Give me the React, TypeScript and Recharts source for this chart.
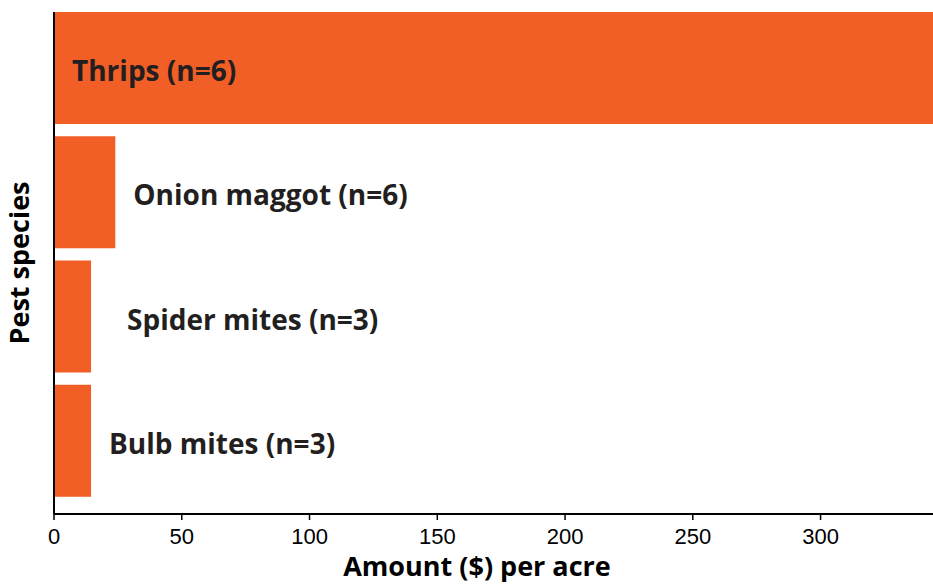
import { Bar, BarChart, LabelList, XAxis, YAxis } from "recharts";

const species = ["Thrips (n=6)", "Onion maggot (n=6)", "Spider mites (n=3)", "Bulb mites (n=3)"];
const amounts = [344, 24, 14.5, 14.5];
const xTicks = [0, 50, 100, 150, 200, 250, 300];

// label placement: Thrips sits inside its bar, the rest to the right
const labelInside = [true, false, false, false];
const labelGap = [18, 18, 36, 18];

const data = species.map((name, i) => ({ name, amount: amounts[i] }));

const FONT = "'Open Sans', sans-serif";
const INK = "#231f20";

function BarLabel(props: any) {
  const { x, y, width, height, index } = props;
  const tx = labelInside[index] ? x + labelGap[index] : x + width + labelGap[index];
  return (
    <text
      x={tx}
      y={y + height / 2 + 2}
      fill={INK}
      fontFamily={FONT}
      fontWeight={700}
      fontSize={28}
      dominantBaseline="central"
    >
      {species[index]}
    </text>
  );
}

export default function App() {
  return (
    <div style={{ position: "absolute", left: 0, top: 0, background: "#fff" }}>
      <BarChart
        width={933}
        height={585}
        data={data}
        layout="vertical"
        margin={{ top: 12, right: 0, left: 0, bottom: 0 }}
        barSize={112}
      >
        <XAxis
          type="number"
          domain={[0, 344]}
          ticks={xTicks}
          allowDataOverflow
          tickSize={6}
          tickMargin={8}
          tick={{ fill: "#000", fontSize: 22, fontFamily: "'Liberation Sans', Arial, sans-serif" }}
          axisLine={{ stroke: "#000", strokeWidth: 2 }}
          tickLine={{ stroke: "#000", strokeWidth: 1.5 }}
          height={71}
          label={() => (
            <text
              x={477}
              y={576}
              textAnchor="middle"
              fill="#000"
              fontFamily={FONT}
              fontWeight={700}
              fontSize={27}
            >
              Amount ($) per acre
            </text>
          )}
        />
        <YAxis
          type="category"
          dataKey="name"
          width={54}
          tick={false}
          tickLine={false}
          padding={{ top: -6, bottom: 11 }}
          axisLine={{ stroke: "#000", strokeWidth: 2 }}
          label={(p: any) => {
            const vb = p.viewBox;
            const cy = vb.y + vb.height / 2;
            return (
              <text
                x={29}
                y={cy}
                transform={`rotate(-90 29 ${cy})`}
                textAnchor="middle"
                fill="#000"
                fontFamily={FONT}
                fontWeight={700}
                fontSize={27}
              >
                Pest species
              </text>
            );
          }}
        />
        <Bar dataKey="amount" fill="#f15e26" isAnimationActive={false}>
          <LabelList dataKey="amount" content={BarLabel} />
        </Bar>
      </BarChart>
    </div>
  );
}
